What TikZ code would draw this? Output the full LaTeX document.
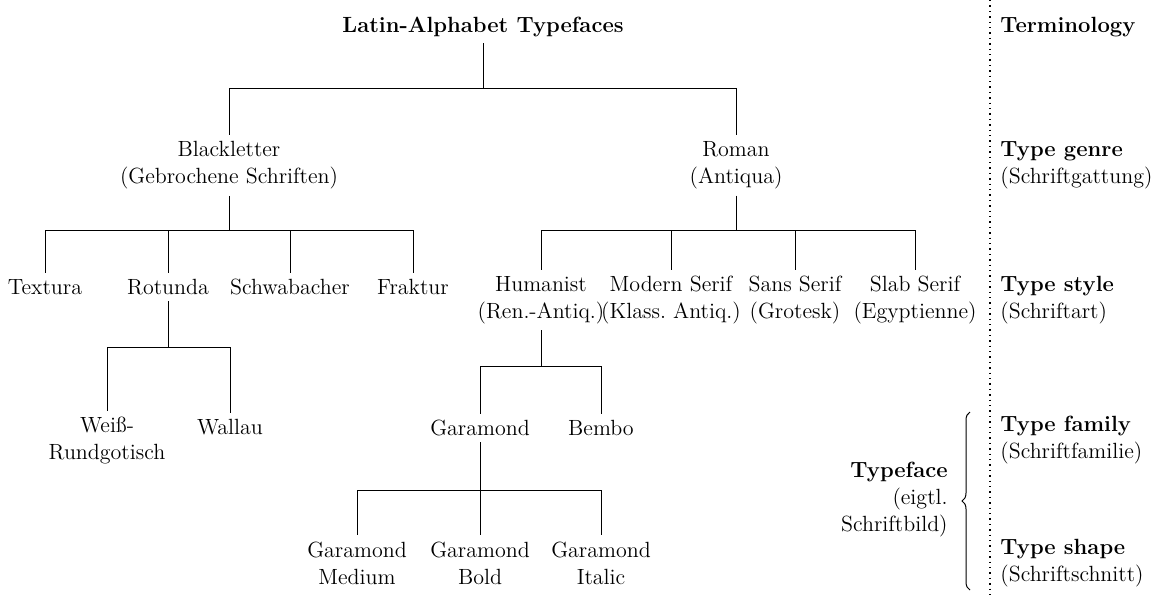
\documentclass[tikz,border=0pt]{standalone}
\usetikzlibrary{decorations.pathreplacing}
\begin{document}
\begin{tikzpicture}[x=0.5pt,y=-0.5pt,
  every node/.style={font=\fontsize{11}{13.5}\selectfont},
  lbl/.style={align=center, inner xsep=0pt, inner ysep=3pt},
  termlbl/.style={align=left, anchor=west, inner sep=0pt},
  tree/.style={line width=0.5pt},
]
\useasboundingbox (0,0) rectangle (1168,596);
% tree nodes
\node[lbl,font=\fontsize{11}{13.5}\selectfont\bfseries] (root) at (483,27) {Latin-Alphabet Typefaces};
\node[lbl] (bl) at (229,165.5) {Blackletter\\(Gebrochene Schriften)};
\node[lbl] (rom) at (736,165.5) {Roman\\(Antiqua)};
\node[lbl] (tex) at (45,287) {Textura};
\node[lbl] (rot) at (168,287) {Rotunda};
\node[lbl] (sch) at (290,287) {Schwabacher};
\node[lbl] (fra) at (413,287) {Fraktur};
\node[lbl] (hum) at (541,300) {Humanist\\(Ren.-Antiq.)};
\node[lbl] (mod) at (671,300) {Modern Serif\\(Klass.\ Antiq.)};
\node[lbl] (sans) at (795,300) {Sans Serif\\(Grotesk)};
\node[lbl] (slab) at (915,300) {Slab Serif\\(Egyptienne)};
\node[lbl] (weiss) at (107,441) {Wei\ss-\\Rundgotisch};
\node[lbl] (wal) at (230,427) {Wallau};
\node[lbl] (gar) at (480,428) {Garamond};
\node[lbl] (bem) at (601,428) {Bembo};
\node[lbl] (gm) at (357,563) {Garamond\\Medium};
\node[lbl] (gb) at (480,563) {Garamond\\Bold};
\node[lbl] (gi) at (601,563) {Garamond\\Italic};
% bar levels
\coordinate (bar0) at (0,88);
\coordinate (bar1) at (0,230);
\coordinate (bar2) at (0,347);
\coordinate (bar3) at (0,366);
\coordinate (bar4) at (0,490);
% connectors
\draw[tree] (root.south) -- (root.south |- bar0) -| (bl.north);
\draw[tree] (root.south |- bar0) -| (rom.north);
\draw[tree] (bl.south) -- (bl.south |- bar1) -| (tex.north);
\draw[tree] (bl.south |- bar1) -| (rot.north);
\draw[tree] (bl.south |- bar1) -| (sch.north);
\draw[tree] (bl.south |- bar1) -| (fra.north);
\draw[tree] (rom.south) -- (rom.south |- bar1) -| (hum.north);
\draw[tree] (rom.south |- bar1) -| (mod.north);
\draw[tree] (rom.south |- bar1) -| (sans.north);
\draw[tree] (rom.south |- bar1) -| (slab.north);
\draw[tree] (rot.south) -- (rot.south |- bar2) -| (weiss.north);
\draw[tree] (rot.south |- bar2) -| (wal.north);
\draw[tree] (hum.south) -- (hum.south |- bar3) -| (gar.north);
\draw[tree] (hum.south |- bar3) -| (bem.north);
\draw[tree] (gar.south) -- (gar.south |- bar4) -| (gm.north);
\draw[tree] (gar.south |- bar4) -| (gb.north);
\draw[tree] (gar.south |- bar4) -| (gi.north);
% terminology column
\coordinate (dotT) at (990,0);
\coordinate (dotB) at (990,596);
\draw[dotted, line width=0.7pt] (dotT) -- (dotB);
\node[termlbl,font=\fontsize{11}{13.5}\selectfont\bfseries] (term) at (1000,27) {Terminology};
\node[termlbl] (genre) at (1000,165.5) {\textbf{Type genre}\\(Schriftgattung)};
\node[termlbl] (style) at (1000,300) {\textbf{Type style}\\(Schriftart)};
\node[termlbl] (family) at (1000,440) {\textbf{Type family}\\(Schriftfamilie)};
\node[termlbl] (shape) at (1000,563) {\textbf{Type shape}\\(Schriftschnitt)};
\node[align=right, anchor=east, inner sep=0pt] (tf) at (948,500) {\textbf{Typeface}\\(eigtl.\\Schriftbild)};
\coordinate (brB) at (970,590);
\coordinate (brT) at (970,412);
\draw[decorate, decoration={brace, amplitude=4pt}, line width=0.5pt] (brB) -- (brT);
\end{tikzpicture}
\end{document}
